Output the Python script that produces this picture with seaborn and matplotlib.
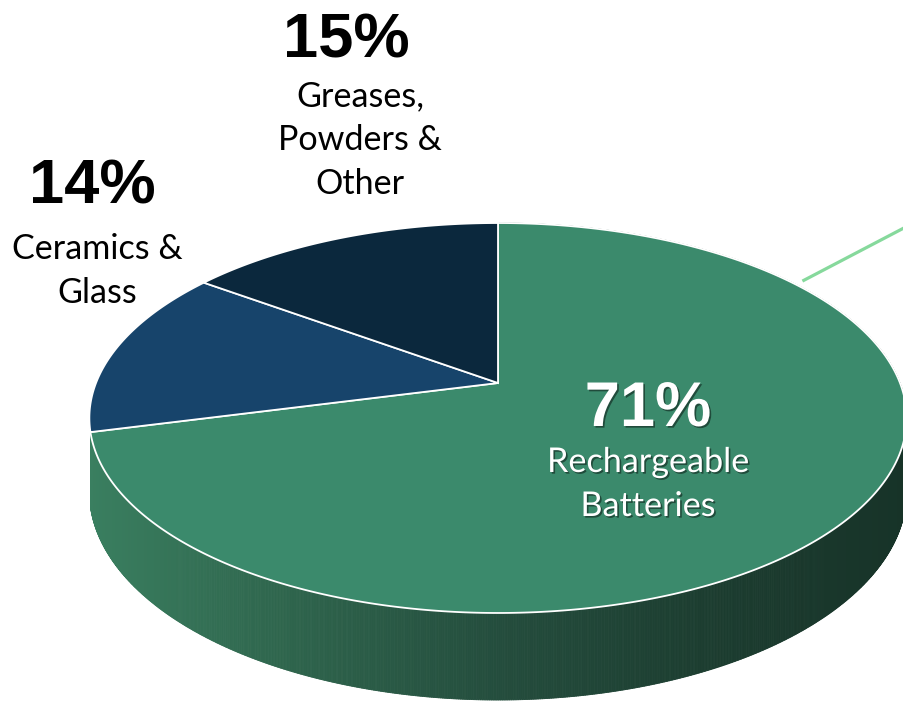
import numpy as np
import matplotlib
matplotlib.use("Agg")
import matplotlib.pyplot as plt
import matplotlib.patheffects as pe
from matplotlib.collections import PolyCollection
from matplotlib.patches import Polygon
import seaborn as sns

# ---- data ----
categories = ["Rechargeable\nBatteries", "Ceramics &\nGlass", "Greases,\nPowders &\nOther"]
shares = [71, 14, 15]
pct_labels = ["71%", "14%", "15%"]

# ---- style ----
top_colors = ["#3B8A6C", "#17446B", "#0B283D"]
side_palette = ["#3A7F60", "#2E644C", "#244D3D", "#1C3D30", "#173328"]
# label layout: (pct x, pct baseline, text x, first text baseline, text colour)
label_layout = [
    (648, 426, 648, 472, "white"),
    (92, 203, 97, 259, "black"),
    (346, 57, 360, 106, "black"),
]
line_step = 44

sns.set_theme(style="white")
plt.rcParams["font.family"] = ["Lato", "DejaVu Sans"]

W, H = 904, 705
fig = plt.figure(figsize=(W / 100, H / 100), dpi=100)
ax = fig.add_axes([0, 0, 1, 1])
ax.set_xlim(0, W)
ax.set_ylim(H, 0)
ax.axis("off")

# perspective projection of the pie disk
CX, CY = 498, 383
S, T, P = 402, 188.7, 0.1795
D = 71.4


def proj(theta, r=1.0):
    t = np.radians(theta)
    u = r * np.sin(t)
    v = r * np.cos(t)
    w = 1 + P * v
    return CX + S * u / w, CY - T * v / w, w


# slice angles (clockwise from 12 o'clock)
fr = np.array(shares, dtype=float) / np.sum(shares)
ends = np.cumsum(fr) * 360
starts = np.concatenate([[0], ends[:-1]])

# ---- side wall of the front (largest) slice ----
cmap = sns.blend_palette(side_palette, as_cmap=True)
angles = np.linspace(starts[0], ends[0], 1200)
polys, cols = [], []
for a0, a1 in zip(angles[:-1], angles[1:]):
    x0, y0, w0 = proj(a0)
    x1, y1, w1 = proj(a1)
    quad = [(x0, y0), (x1, y1), (x1, y1 + D / w1), (x0, y0 + D / w0)]
    xm = 0.5 * (x0 + x1)
    t = np.clip((xm - (CX - 412)) / (2 * 412), 0, 1)
    polys.append(quad)
    cols.append(cmap(t))
ax.add_collection(PolyCollection(polys, facecolors=cols, edgecolors=cols, linewidths=0.6, zorder=1))

# ---- top face ----
for k in range(len(shares)):
    th = np.linspace(starts[k], ends[k], 400)
    xs, ys, _ = proj(th)
    pts = [(CX, CY)] + list(zip(xs, ys))
    ax.add_patch(Polygon(pts, closed=True, facecolor=top_colors[k], edgecolor="white",
                         linewidth=1.3, joinstyle="miter", zorder=2))

# leader line from the big slice
lx, ly, _ = proj(54.5, 1.03)
ax.plot([lx, lx + 130], [ly, ly - 68], color="#86D99C", lw=2.3, solid_capstyle="butt", zorder=3)

# ---- labels ----
shadow = [pe.SimplePatchShadow(offset=(1.2, -1.2), shadow_rgbFace="black", alpha=0.45), pe.Normal()]
for k in range(len(shares)):
    px, pb, tx, tb, c = label_layout[k]
    eff = shadow if c == "white" else None
    ax.text(px, pb, pct_labels[k], ha="center", va="baseline", color=c,
            fontsize=45.5, fontweight="bold", family=["Liberation Sans", "DejaVu Sans"],
            path_effects=eff, zorder=5)
    for i, line in enumerate(categories[k].split("\n")):
        ax.text(tx, tb + i * line_step, line, ha="center", va="baseline", color=c,
                fontsize=24.6, path_effects=eff, zorder=5)

fig.savefig("out.png", dpi=100)
